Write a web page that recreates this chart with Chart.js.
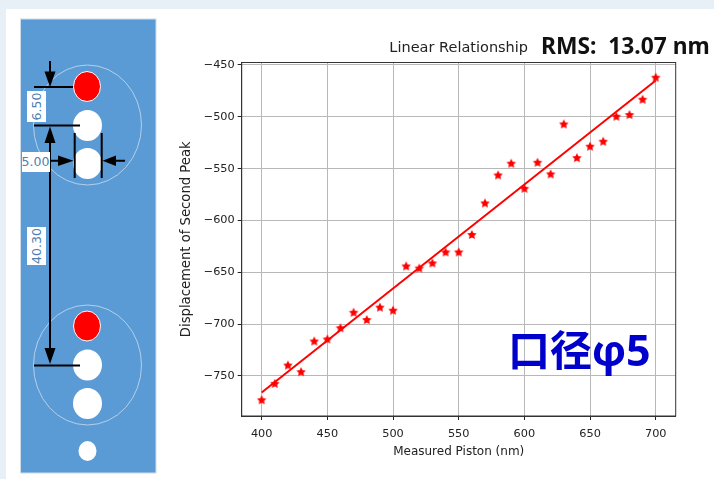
<!DOCTYPE html>
<html>
<head>
<meta charset="utf-8">
<script src="https://cdn.jsdelivr.net/npm/chart.js@4"></script>
<style>
    html, body { margin: 0; padding: 0; background: #e7eff7; overflow: hidden; }
    #sheet { position: absolute; left: 6px; top: 9px; width: 708px; height: 470px; background: #fff; }
    #diagram { position: absolute; left: 0; top: 0; }
    #chartBox { position: absolute; left: 0; top: 0; width: 714px; height: 479px; }
    .note { position: absolute; white-space: nowrap; line-height: 1; }
    #rms { left: 541px; top: 30px; font: bold 22.8px "Noto Sans", sans-serif; color: #111; }
    #aperture { left: 508px; top: 317px; font: bold 42px "Noto Sans CJK SC", sans-serif; color: #0000cd; }
    #aperture span { font: bold 43px "Open Sans", sans-serif; }
</style>
</head>
<body>
<div id="sheet"></div>
<svg id="diagram" width="714" height="479" font-family="DejaVu Sans, sans-serif">
    <rect x="20.5" y="19" width="135.5" height="454" fill="#5b9bd5" stroke="#cfdcea" stroke-width="1"/>
    <ellipse cx="87.5" cy="125" rx="54" ry="60" fill="none" stroke="#b5cfe9" stroke-width="1"/>
    <ellipse cx="87.5" cy="365" rx="54" ry="60" fill="none" stroke="#b5cfe9" stroke-width="1"/>
    <ellipse cx="87" cy="86.5" rx="13.5" ry="15" fill="#ff0000" stroke="#fff" stroke-width="1"/>
    <ellipse cx="87.5" cy="125.5" rx="14.5" ry="15.5" fill="#fff"/>
    <ellipse cx="87.5" cy="163.5" rx="14.5" ry="15.5" fill="#fff"/>
    <ellipse cx="87" cy="326" rx="13.5" ry="15" fill="#ff0000" stroke="#fff" stroke-width="1"/>
    <ellipse cx="87.5" cy="365" rx="14.5" ry="15.5" fill="#fff"/>
    <ellipse cx="87.5" cy="403.5" rx="14.5" ry="15.5" fill="#fff"/>
    <ellipse cx="87.5" cy="451" rx="9" ry="10" fill="#fff"/>

    <g stroke="#000" stroke-width="2" fill="none">
        <path d="M34 87H73M34 125.5H80M34 365.5H80"/>
        <path d="M50 61V75M50 140V350"/>
        <path d="M74.7 133V178M101.7 133V178"/>
        <path d="M50 160.7H60M113 160.7H125"/>
    </g>
    <g fill="#000">
        <path d="M44.5 71.5H55.5L50 87Z"/>
        <path d="M44.5 143H55.5L50 126.5Z"/>
        <path d="M44.5 348H55.5L50 364Z"/>
        <path d="M58 155.5V166L73.5 160.7Z"/>
        <path d="M116 155.5V166L102.5 160.7Z"/>
    </g>

    <rect x="27" y="91" width="19" height="31" fill="#fff"/>
    <rect x="27" y="227" width="19" height="38" fill="#fff"/>
    <rect x="22" y="152" width="28" height="20" fill="#fff"/>
    <g fill="#4d7fb3" font-size="12.5" text-anchor="middle">
        <text transform="translate(41 106.5) rotate(-90)">6.50</text>
        <text transform="translate(41 246) rotate(-90)">40.30</text>
        <text x="35.5" y="166">5.00</text>
    </g>
</svg>
<div id="chartBox"><canvas id="pistonChart" width="714" height="479"></canvas></div>
<div class="note" id="rms">RMS:&nbsp; 13.07 nm</div>
<div class="note" id="aperture">口径<span>φ5</span></div>

<script>
    const pistonValues = [400, 410, 420, 430, 440, 450, 460, 470, 480, 490, 500, 510, 520, 530, 540, 550,
        560, 570, 580, 590, 600, 610, 620, 630, 640, 650, 660, 670, 680, 690, 700];
    const peakValues = [-773.4, -757.6, -739.9, -746.3, -716.7, -714.8, -703.9, -689, -696, -684, -687,
        -644.3, -646.3, -641.4, -630.8, -630.8, -614, -583.5, -556.5, -545.2, -569.4, -544.3, -555.5,
        -507.3, -539.8, -528.8, -524, -499.9, -498.3, -483.5, -462.3];
    const fitPiston = [400, 700];
    const fitPeak = [-766, -465];

    function makeStar(radius, color) {
        const star = document.createElement('canvas');
        const size = radius * 2 + 2;
        star.width = size;
        star.height = size;
        const ctx = star.getContext('2d');
        ctx.fillStyle = color;
        ctx.beginPath();
        for (let i = 0; i < 10; i++) {
            const r = i % 2 === 0 ? radius : radius * 0.5;
            const a = -Math.PI / 2 + i * Math.PI / 5;
            const px = size / 2 + r * Math.cos(a);
            const py = size / 2 + r * Math.sin(a);
            if (i === 0) ctx.moveTo(px, py);
            else ctx.lineTo(px, py);
        }
        ctx.closePath();
        ctx.fill();
        return star;
    }

    // chart.js only draws the left and bottom edge, the reference has a full box
    const frameBox = {
        id: 'frameBox',
        afterDatasetsDraw(chart) {
            const { ctx, chartArea: a } = chart;
            ctx.save();
            ctx.strokeStyle = '#333';
            ctx.lineWidth = 1;
            ctx.strokeRect(a.left, a.top, a.right - a.left, a.bottom - a.top);
            ctx.restore();
        },
    };

    const tickFont = { family: 'DejaVu Sans', size: 11.3 };

    new Chart(document.getElementById('pistonChart'), {
        type: 'scatter',
        data: {
            datasets: [
                {
                    label: 'Data',
                    data: pistonValues.map((x, i) => ({ x, y: peakValues[i] })),
                    pointStyle: makeStar(5, '#ff0000'),
                    pointRadius: 5,
                    showLine: false,
                },
                {
                    label: 'Fit',
                    data: fitPiston.map((x, i) => ({ x, y: fitPeak[i] })),
                    showLine: true,
                    borderColor: '#ff0000',
                    borderWidth: 2,
                    pointRadius: 0,
                },
            ],
        },
        options: {
            responsive: false,
            animation: false,
            layout: { padding: { left: 179, right: 38.3, top: 39.1, bottom: 20 } },
            plugins: {
                legend: { display: false },
                tooltip: { enabled: false },
                title: {
                    display: true,
                    text: 'Linear Relationship',
                    fullSize: false,
                    color: '#222',
                    font: { family: 'DejaVu Sans', size: 14.5, weight: 'normal' },
                    padding: { top: 0, bottom: 6 },
                },
            },
            scales: {
                x: {
                    type: 'linear',
                    min: 384.8,
                    max: 715.2,
                    afterFit(scale) { scale.height = 43; },
                    title: {
                        display: true,
                        text: 'Measured Piston (nm)',
                        color: '#222',
                        font: { family: 'DejaVu Sans', size: 12 },
                        padding: { top: 1, bottom: 0 },
                    },
                    ticks: { stepSize: 50, includeBounds: false, color: '#222', font: tickFont, maxRotation: 0, padding: 7 },
                    grid: { color: '#b8b8b8', lineWidth: 1, tickColor: '#222', tickLength: 4 },
                    border: { color: '#333' },
                },
                y: {
                    min: -788.6,
                    max: -447.6,
                    afterFit(scale) { scale.width = 62.7; },
                    title: {
                        display: true,
                        text: 'Displacement of Second Peak',
                        color: '#222',
                        font: { family: 'DejaVu Sans', size: 13.2 },
                        padding: { top: 0, bottom: 0 },
                    },
                    ticks: {
                        stepSize: 50,
                        includeBounds: false,
                        color: '#222',
                        font: tickFont,
                        padding: 3,
                        callback: (value) => String(value).replace('-', '\u2212'),
                    },
                    grid: { color: '#b8b8b8', lineWidth: 1, tickColor: '#222', tickLength: 4 },
                    border: { color: '#333' },
                },
            },
        },
        plugins: [frameBox],
    });
</script>
</body>
</html>
